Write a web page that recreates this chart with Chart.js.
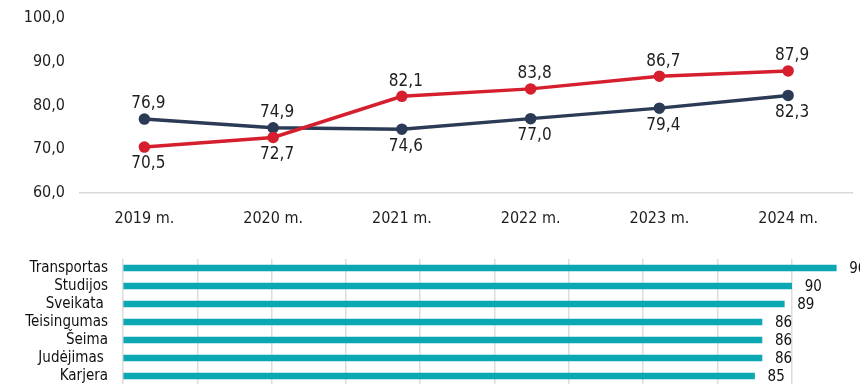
<!DOCTYPE html>
<html lang="lt">
<head>
    <meta charset="UTF-8">
    <title>Rodikliai</title>
    <script src="https://cdn.jsdelivr.net/npm/chart.js"></script>
    <style>
        html, body { margin: 0; padding: 0; background: #fff; }
        .wrap { position: relative; width: 860px; height: 384px; overflow: hidden; }
        #trend-chart { position: absolute; left: 0; top: 0; }
        #areas-chart { position: absolute; left: 0; top: 240px; }
    </style>
</head>
<body>
    <div class="wrap">
        <canvas id="trend-chart" width="860" height="240"></canvas>
        <canvas id="areas-chart" width="880" height="150"></canvas>
    </div>
    <script>
    // Viršutinis grafikas: dvi kreivės pagal metus
    const years = ['2019 m.', '2020 m.', '2021 m.', '2022 m.', '2023 m.', '2024 m.'];
    const redValues = [70.5, 72.7, 82.1, 83.8, 86.7, 87.9];
    const navyValues = [76.9, 74.9, 74.6, 77.0, 79.4, 82.3];
    const redLabelSide = ['below', 'below', 'above', 'above', 'above', 'above'];
    const navyLabelSide = ['above', 'above', 'below', 'below', 'below', 'below'];
    const yMin = 60, yMax = 100, yStep = 10;

    // Apatinis grafikas: sritys
    const areaNames = ['Transportas', 'Studijos', 'Sveikata ', 'Teisingumas', 'Šeima', 'Judėjimas ', 'Karjera'];
    const areaValues = [96, 90, 89, 86, 86, 86, 85];

    const FONT = '"DejaVu Sans Condensed", "Open Sans", sans-serif';
    const fmt = v => v.toFixed(1).replace('.', ',');

    // ašies paraštės nepridedamos prie layout.padding
    const noScalePadding = s => {
        s.paddingTop = 0; s.paddingBottom = 0;
        s.paddingLeft = 0; s.paddingRight = 0;
    };

    // reikšmės virš / po taškais
    const pointLabels = {
        id: 'pointLabels',
        afterDatasetsDraw(chart) {
            const ctx = chart.ctx;
            ctx.save();
            ctx.font = '17px ' + FONT;
            ctx.fillStyle = '#1e1e1e';
            ctx.textAlign = 'center';
            ctx.textBaseline = 'middle';
            chart.data.datasets.forEach((ds, i) => {
                chart.getDatasetMeta(i).data.forEach((pt, j) => {
                    const dy = ds.labelSide[j] === 'above' ? -15 : 17;
                    ctx.fillText(fmt(ds.data[j]), pt.x + 4, pt.y + dy);
                });
            });
            ctx.restore();
        }
    };

    // reikšmės šalia juostų
    const barLabels = {
        id: 'barLabels',
        afterDatasetsDraw(chart) {
            const ctx = chart.ctx;
            ctx.save();
            ctx.font = '15px ' + FONT;
            ctx.fillStyle = '#111';
            ctx.textAlign = 'left';
            ctx.textBaseline = 'middle';
            const ds = chart.data.datasets[0];
            chart.getDatasetMeta(0).data.forEach((bar, j) => {
                ctx.fillText(String(ds.data[j]), bar.x + 13, bar.y + 1);
            });
            ctx.restore();
        }
    };

    new Chart(document.getElementById('trend-chart'), {
        type: 'line',
        data: {
            labels: years,
            datasets: [{
                data: redValues,
                labelSide: redLabelSide,
                borderColor: '#d61f2e',
                backgroundColor: '#d61f2e',
                borderWidth: 3.5,
                pointRadius: 4,
                pointHoverRadius: 4,
                fill: false,
                tension: 0
            }, {
                data: navyValues,
                labelSide: navyLabelSide,
                borderColor: '#2b3a55',
                backgroundColor: '#2b3a55',
                borderWidth: 3.5,
                pointRadius: 4,
                pointHoverRadius: 4,
                fill: false,
                tension: 0
            }]
        },
        options: {
            responsive: false,
            animation: false,
            layout: { padding: { top: 18, right: 7, bottom: 0, left: 0 } },
            plugins: { legend: { display: false }, tooltip: { enabled: false } },
            scales: {
                x: {
                    offset: true,
                    afterFit: s => { noScalePadding(s); s.height = 47; },
                    grid: { display: false, drawTicks: false },
                    border: { display: true, color: '#d9d9d9', width: 1.5 },
                    ticks: { padding: 16, color: '#1e1e1e', font: { family: FONT, size: 16 } }
                },
                y: {
                    min: yMin,
                    max: yMax,
                    afterFit: s => { noScalePadding(s); s.width = 80; },
                    grid: { display: false, drawTicks: false },
                    border: { display: false },
                    ticks: {
                        stepSize: yStep,
                        padding: 15,
                        color: '#1e1e1e',
                        font: { family: FONT, size: 16 },
                        callback: v => fmt(v)
                    }
                }
            }
        },
        plugins: [pointLabels]
    });

    new Chart(document.getElementById('areas-chart'), {
        type: 'bar',
        data: {
            labels: areaNames,
            datasets: [{
                data: areaValues,
                backgroundColor: '#0ba7b3',
                barThickness: 6
            }]
        },
        options: {
            indexAxis: 'y',
            responsive: false,
            animation: false,
            layout: { padding: { top: 19, right: 14, bottom: 5, left: 0 } },
            plugins: { legend: { display: false }, tooltip: { enabled: false } },
            scales: {
                x: {
                    min: 0,
                    max: 100,
                    afterFit: s => { noScalePadding(s); s.height = 0; },
                    ticks: { display: false, stepSize: 10 },
                    grid: { color: '#dcdcdc', lineWidth: 1.5, drawTicks: false },
                    border: { display: false }
                },
                y: {
                    afterFit: s => { noScalePadding(s); s.width = 123; },
                    grid: { display: false, drawTicks: false },
                    border: { display: false },
                    ticks: { autoSkip: false, padding: 15, color: '#111', font: { family: FONT, size: 15 } }
                }
            }
        },
        plugins: [barLabels]
    });
    </script>
</body>
</html>
